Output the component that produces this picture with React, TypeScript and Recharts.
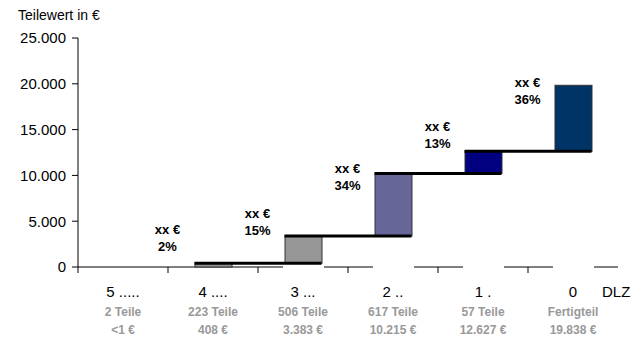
import React from 'react';
import { ComposedChart, Bar, XAxis, YAxis, Cell, ReferenceLine, LabelList } from 'recharts';

const categories = ['5 .....', '4 ....', '3 ...', '2 ..', '1 .', '0'];
const partCounts = ['2 Teile', '223 Teile', '506 Teile', '617 Teile', '57 Teile', 'Fertigteil'];
const valueLabels = ['<1 €', '408 €', '3.383 €', '10.215 €', '12.627 €', '19.838 €'];
const cumulativeValues = [0.5, 408, 3383, 10215, 12627, 19838];
const amountLabels = ['', 'xx €', 'xx €', 'xx €', 'xx €', 'xx €'];
const shareLabels = ['', '2%', '15%', '34%', '13%', '36%'];
const barColors = ['#969696', '#969696', '#969696', '#666699', '#000080', '#003366'];
const yTicks = [0, 5000, 10000, 15000, 20000, 25000];

const data = categories.map((cat, i) => {
  const base = i === 0 ? 0 : cumulativeValues[i - 1];
  return { cat, base, delta: cumulativeValues[i] - base };
});

const CHART_W = 642;
const CHART_H = 337;
const MARGIN = { top: 38, right: 24, bottom: 0, left: 0 };
const Y_AXIS_W = 78;
const PLOT_W = CHART_W - MARGIN.left - MARGIN.right - Y_AXIS_W;
const BAND = PLOT_W / categories.length;
const BAR_W = 37;
const TICK = 6;
const FONT = '"Liberation Sans", Arial, Helvetica, sans-serif';

const fmt = (v: number) => String(v).replace(/\B(?=(\d{3})+(?!\d))/g, '.');

const XTick = (props: any) => {
  const { x, y, payload } = props;
  const i = categories.indexOf(payload.value);
  const bx = x - BAND / 2;
  return (
    <g>
      <line x1={bx} x2={bx} y1={y - TICK} y2={y} stroke="#000" strokeWidth={1} />
      <text x={x} y={y + 24} textAnchor="middle" fontSize={15} fontFamily={FONT} fill="#000">
        {payload.value}
      </text>
      <text x={x} y={y + 43} textAnchor="middle" fontSize={12} fontWeight="bold" fontFamily={FONT} fill="#999999">
        {partCounts[i]}
      </text>
      <text x={x} y={y + 61} textAnchor="middle" fontSize={12} fontWeight="bold" fontFamily={FONT} fill="#999999">
        {valueLabels[i]}
      </text>
    </g>
  );
};

const BaseShape = (p: any) => {
  if (!p.height || p.height < 1) return <g />;
  return <rect x={p.x - 2} y={p.y} width={p.width + 4} height={p.height + 1} fill="#ffffff" />;
};

const DeltaShape = (p: any) => {
  if (!p.height || p.height < 1) return <g />;
  return (
    <rect x={p.x} y={p.y} width={p.width} height={p.height} fill={p.fill} stroke="#333333" strokeWidth={1} />
  );
};

const StepShape = (p: any) => (
  <line
    x1={p.x1 - BAR_W / 2}
    x2={p.x2 + BAR_W / 2}
    y1={p.y1}
    y2={p.y2}
    stroke="#000"
    strokeWidth={3}
  />
);

const BarLabel = (props: any) => {
  const vb = props.viewBox && props.viewBox.width !== undefined ? props.viewBox : props;
  const idx = props.index;
  if (!amountLabels[idx]) return null;
  const cx = vb.x + vb.width / 2 - 46;
  const mid = vb.y + vb.height / 2;
  return (
    <g>
      <text x={cx} y={mid - 31.5} textAnchor="middle" fontSize={13} fontWeight="bold" fontFamily={FONT} fill="#000">
        {amountLabels[idx]}
      </text>
      <text x={cx} y={mid - 14.5} textAnchor="middle" fontSize={13} fontWeight="bold" fontFamily={FONT} fill="#000">
        {shareLabels[idx]}
      </text>
    </g>
  );
};

export default function App() {
  const steps = cumulativeValues.slice(1, cumulativeValues.length - 1).map((v, k) => ({
    from: categories[k + 1],
    to: categories[k + 2],
    y: v,
  }));
  return (
    <div style={{ position: 'absolute', left: 0, top: 0, width: CHART_W, height: CHART_H, background: '#fff', fontFamily: FONT }}>
      <ComposedChart width={CHART_W} height={CHART_H} data={data} margin={MARGIN} barCategoryGap={0}>
        <XAxis
          dataKey="cat"
          type="category"
          height={CHART_H - 267}
          axisLine={{ stroke: '#000', strokeWidth: 1 }}
          tickLine={false}
          tickSize={TICK}
          tickMargin={0}
          tick={<XTick />}
          interval={0}
        />
        <XAxis
          xAxisId="top"
          dataKey="cat"
          type="category"
          orientation="top"
          height={0}
          axisLine={{ stroke: '#000', strokeWidth: 1 }}
          tick={false}
          tickLine={false}
        />
        <YAxis
          type="number"
          domain={[0, 25000]}
          ticks={yTicks}
          width={Y_AXIS_W}
          axisLine={{ stroke: '#000', strokeWidth: 1 }}
          tickLine={{ stroke: '#000', strokeWidth: 1 }}
          tickSize={TICK}
          tickMargin={6}
          tickFormatter={fmt}
          tick={{ fontSize: 15, fill: '#000', fontFamily: FONT }}
          interval={0}
        />
        <YAxis
          yAxisId="right"
          orientation="right"
          type="number"
          domain={[0, 25000]}
          width={0}
          axisLine={{ stroke: '#000', strokeWidth: 1 }}
          tick={false}
          tickLine={false}
        />
        <Bar dataKey="base" stackId="w" barSize={BAR_W} shape={<BaseShape />} isAnimationActive={false} zIndex={600} />
        <Bar
          dataKey="delta"
          stackId="w"
          barSize={BAR_W}
          shape={<DeltaShape />}
          isAnimationActive={false}
          zIndex={600}
        >
          {data.map((d, i) => (
            <Cell key={d.cat} fill={barColors[i]} />
          ))}
          <LabelList dataKey="delta" content={<BarLabel />} />
        </Bar>
        {steps.map((s) => (
          <ReferenceLine
            key={s.from}
            segment={[
              { x: s.from, y: s.y },
              { x: s.to, y: s.y },
            ]}
            shape={<StepShape />}
            zIndex={700}
          />
        ))}
      </ComposedChart>
      <div style={{ position: 'absolute', left: 18, top: 7, fontSize: 14, lineHeight: '16px', color: '#000', whiteSpace: 'nowrap' }}>
        Teilewert in €
      </div>
      <div style={{ position: 'absolute', left: 602, top: 283, fontSize: 15, lineHeight: '17px', color: '#000', whiteSpace: 'nowrap' }}>
        DLZ
      </div>
    </div>
  );
}
